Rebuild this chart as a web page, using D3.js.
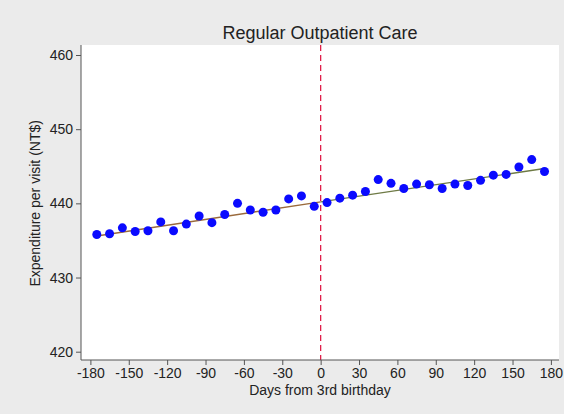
<!DOCTYPE html>
<html>
<head>
<meta charset="utf-8">
<script src="https://cdn.jsdelivr.net/npm/d3@7"></script>
<style>
  html, body { margin: 0; padding: 0; background: #ebebeb; }
  svg { display: block; font-family: "Liberation Sans", Arial, sans-serif; }
</style>
</head>
<body>
<div id="chart"></div>
<script>
// days from 3rd birthday, one bin every 10 days
const days = [-175, -165, -155, -145, -135, -125, -115, -105, -95, -85, -75, -65, -55, -45, -35, -25, -15, -5,
              5, 15, 25, 35, 45, 55, 65, 75, 85, 95, 105, 115, 125, 135, 145, 155, 165, 175];
const expenditure = [435.8, 435.9, 436.7, 436.2, 436.3, 437.5, 436.3, 437.2, 438.3, 437.4, 438.5, 440.0, 439.1, 438.8, 439.1, 440.6, 441.0, 439.6,
                     440.1, 440.7, 441.1, 441.6, 443.2, 442.7, 442.0, 442.6, 442.5, 442.0, 442.6, 442.4, 443.1, 443.8, 443.9, 444.9, 445.9, 444.3];
// fitted lines on each side of the cutoff
const fitLeft = [{ day: -175, value: 435.6 }, { day: 0, value: 440.2 }];
const fitRight = [{ day: 0, value: 440.2 }, { day: 175, value: 444.7 }];
const xTicks = [-180, -150, -120, -90, -60, -30, 0, 30, 60, 90, 120, 150, 180];
const yTicks = [420, 430, 440, 450, 460];

const width = 564, height = 414;
const plot = { left: 81, right: 559, top: 45, bottom: 360 };

const svg = d3.select('#chart')
    .append('svg')
    .attr('width', width)
    .attr('height', height);

svg.append('rect')
    .attr('width', width)
    .attr('height', height)
    .attr('fill', '#ebebeb');

// white plot region
svg.append('rect')
    .attr('x', plot.left)
    .attr('y', plot.top)
    .attr('width', plot.right - plot.left)
    .attr('height', plot.bottom - plot.top)
    .attr('fill', '#ffffff');

const x = d3.scaleLinear().domain([-180, 180]).range([90.4, 550.9]);
const y = d3.scaleLinear().domain([420, 460]).range([351.7, 55]);

// title
svg.append('text')
    .attr('x', (plot.left + plot.right) / 2)
    .attr('y', 39)
    .attr('text-anchor', 'middle')
    .attr('font-size', '18px')
    .attr('fill', '#222')
    .text('Regular Outpatient Care');

// cutoff line
svg.append('line')
    .attr('x1', x(0)).attr('x2', x(0))
    .attr('y1', plot.top).attr('y2', plot.bottom)
    .attr('stroke', '#e0204a')
    .attr('stroke-width', 1.3)
    .attr('stroke-dasharray', '6,4');

// fitted lines
const line = d3.line().x(d => x(d.day)).y(d => y(d.value));
svg.append('path').datum(fitLeft)
    .attr('d', line).attr('fill', 'none')
    .attr('stroke', '#9a6a3c').attr('stroke-width', 1.4);
svg.append('path').datum(fitRight)
    .attr('d', line).attr('fill', 'none')
    .attr('stroke', '#6e7a45').attr('stroke-width', 1.4);

// binned means
svg.append('g')
    .selectAll('circle')
    .data(days)
    .enter()
    .append('circle')
    .attr('cx', d => x(d))
    .attr('cy', (d, i) => y(expenditure[i]))
    .attr('r', 4.5)
    .attr('fill', '#0a0aff');

// axes (plain hyphen for negatives, like the original)
const fmt = d => String(d);
const xAxis = d3.axisBottom(x).tickValues(xTicks).tickSize(5).tickPadding(3).tickFormat(fmt);
const yAxis = d3.axisLeft(y).tickValues(yTicks).tickSize(5).tickPadding(3).tickFormat(fmt);

const gx = svg.append('g')
    .attr('transform', `translate(0, ${plot.bottom})`)
    .call(xAxis);
gx.select('.domain').attr('d', `M${plot.left},0H${plot.right}`);

const gy = svg.append('g')
    .attr('transform', `translate(${plot.left}, 0)`)
    .call(yAxis);
gy.select('.domain').attr('d', `M0,${plot.top}V${plot.bottom}`);

[gx, gy].forEach(g => {
    g.selectAll('.domain').attr('stroke', '#555');
    g.selectAll('.tick line').attr('stroke', '#555');
    g.selectAll('.tick text')
        .attr('font-size', '14px')
        .attr('fill', '#222')
        .style('font-family', '"Liberation Sans", Arial, sans-serif');
});

// axis titles
svg.append('text')
    .attr('x', (plot.left + plot.right) / 2)
    .attr('y', 395)
    .attr('text-anchor', 'middle')
    .attr('font-size', '14px')
    .attr('fill', '#222')
    .text('Days from 3rd birthday');

svg.append('text')
    .attr('transform', `translate(40, ${y(440)}) rotate(-90)`)
    .attr('text-anchor', 'middle')
    .attr('font-size', '14px')
    .attr('fill', '#222')
    .text('Expenditure per visit (NT$)');
</script>
</body>
</html>
